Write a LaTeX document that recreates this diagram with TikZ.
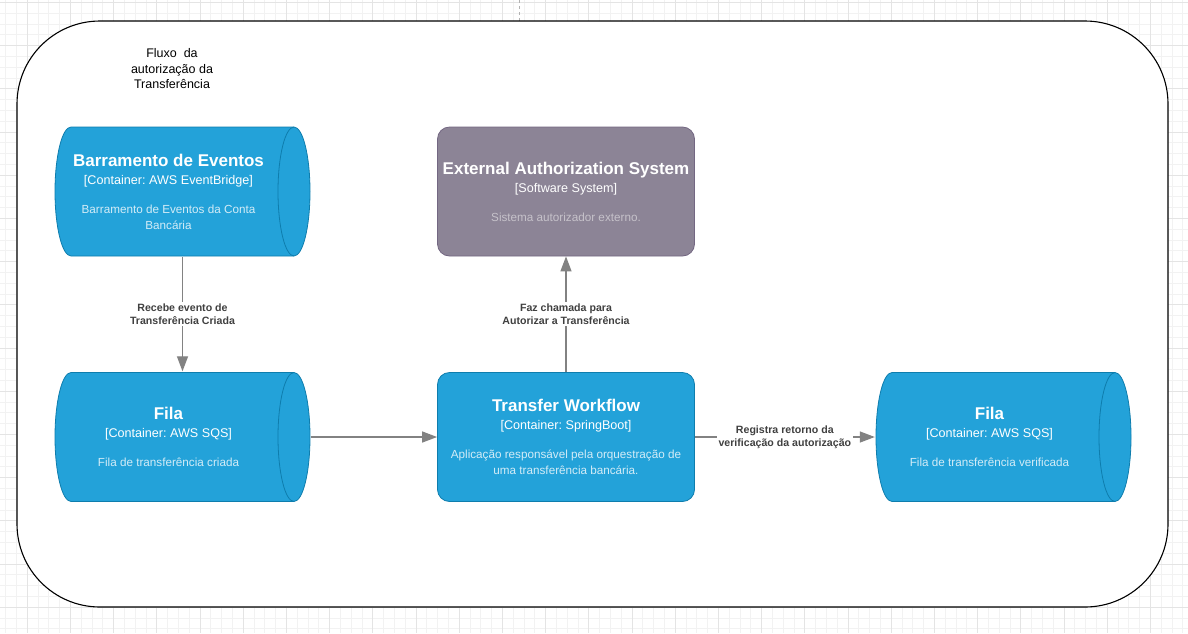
\documentclass[tikz,border=0pt]{standalone}
\usepackage{fontspec}
\setmainfont{Liberation Sans}
\frenchspacing
\usetikzlibrary{shapes.geometric,arrows.meta,positioning}
\definecolor{contfill}{HTML}{23A2D9}
\definecolor{contline}{HTML}{0E7DAD}
\definecolor{extfill}{HTML}{8C8496}
\definecolor{extline}{HTML}{736782}
\definecolor{relline}{HTML}{828282}
\definecolor{reltext}{HTML}{404040}
\definecolor{gridminor}{HTML}{F2F2F2}
\definecolor{gridmajor}{HTML}{E4E4E4}
\colorlet{contdesc}{white!80!contfill}
\colorlet{extdesc}{white!50!extfill}
\newcommand{\cfbox}[3]{{\color{white}\fontsize{17}{19}\selectfont\bfseries #1}\\[2pt]{\color{white}\fontsize{12.6}{14}\selectfont #2}\\[13pt]#3}
\tikzset{
boundary/.style = {draw=black, fill=white, line width=1.1pt, rectangle, rounded corners=83pt, minimum width=1151pt, minimum height=586pt},
caption/.style = {align=center, font=\fontsize{12.5}{15.5}\selectfont},
container/.style = {draw=contline, fill=contfill, text=contdesc, align=center, line width=0.8pt, font=\fontsize{11.7}{16}\selectfont},
queue/.style = {rectangle, minimum width=257pt, minimum height=131pt, inner sep=0pt,
  path picture={
    \draw[contline, fill=contfill, line width=0.8pt]
      ([xshift=17pt,yshift=-1pt]path picture bounding box.north west) -- ([xshift=-17pt,yshift=-1pt]path picture bounding box.north east)
      arc[start angle=90, end angle=-90, x radius=16pt, y radius=64.5pt]
      -- ([xshift=17pt,yshift=1pt]path picture bounding box.south west)
      arc[start angle=270, end angle=90, x radius=16pt, y radius=64.5pt] -- cycle;
    \draw[contline, line width=0.8pt]
      ([xshift=-17pt,yshift=-1pt]path picture bounding box.north east)
      arc[start angle=90, end angle=270, x radius=16pt, y radius=64.5pt];
  }},
queuetext/.style = {container, draw=none, fill=none, xshift=-14pt},
service/.style = {container, rectangle, rounded corners=12pt, minimum width=257pt, minimum height=129pt},
extsys/.style = {service, draw=extline, fill=extfill, text=extdesc},
rel/.style = {draw=relline, line width=1.3pt, -{Triangle[length=15pt,width=11pt]}},
rellabel/.style = {fill=white, text=reltext, align=center, inner sep=1.5pt, font=\fontsize{10.6}{13.5}\selectfont\bfseries},
}
\begin{document}
\begin{tikzpicture}[x=1pt, y=-1pt]
\useasboundingbox (0,0) rectangle (1188,633);
% background grid
\foreach \i in {-2,...,108} \draw[gridminor, line width=0.6pt] ({27+10.8*\i},0) -- ({27+10.8*\i},633);
\foreach \j in {-2,...,57} \draw[gridminor, line width=0.6pt] (0,{607-10.8*\j}) -- (1188,{607-10.8*\j});
\foreach \i in {0,...,27} \draw[gridmajor, line width=0.6pt] ({27+43.2*\i},0) -- ({27+43.2*\i},633);
\foreach \j in {0,...,14} \draw[gridmajor, line width=0.6pt] (0,{607-43.2*\j}) -- (1188,{607-43.2*\j});
\draw[gray!60, dashed, line width=0.8pt] (519,0) -- (519,22);

\node[boundary] (flow) at (592.5,314) {};
\node[caption] (title) at (172,69) {Fluxo\ \ da\\autorização da\\Transferência};

\node[queue, label={[queuetext]center:{\cfbox{Barramento de Eventos}{[Container: AWS EventBridge]}{Barramento de Eventos da Conta\\Bancária}}}] (bus) at (182.5,191.5) {};
\node[queue, label={[queuetext]center:{\cfbox{Fila}{[Container: AWS SQS]}{Fila de transferência criada}}}] (created) at (182.5,437) {};
\node[service] (workflow) at (566,437) {\cfbox{Transfer Workflow}{[Container: SpringBoot]}{Aplicação responsável pela orquestração de\\uma transferência bancária.}};
\node[extsys] (authsys) at (566,191.5) {\cfbox{External Authorization System}{[Software System]}{Sistema autorizador externo.}};
\node[queue, label={[queuetext]center:{\cfbox{Fila}{[Container: AWS SQS]}{Fila de transferência verificada}}}] (checked) at (1003.5,437) {};

\draw[rel] (bus) -- node[rellabel] {Recebe evento de\\Transferência Criada} (created);
\draw[rel] (created) -- (workflow);
\draw[rel] (workflow) -- node[rellabel] {Faz chamada para\\Autorizar a Transferência} (authsys);
\draw[rel] (workflow) -- node[rellabel] {Registra retorno da\\verificação da autorização} (checked);
\end{tikzpicture}
\end{document}
